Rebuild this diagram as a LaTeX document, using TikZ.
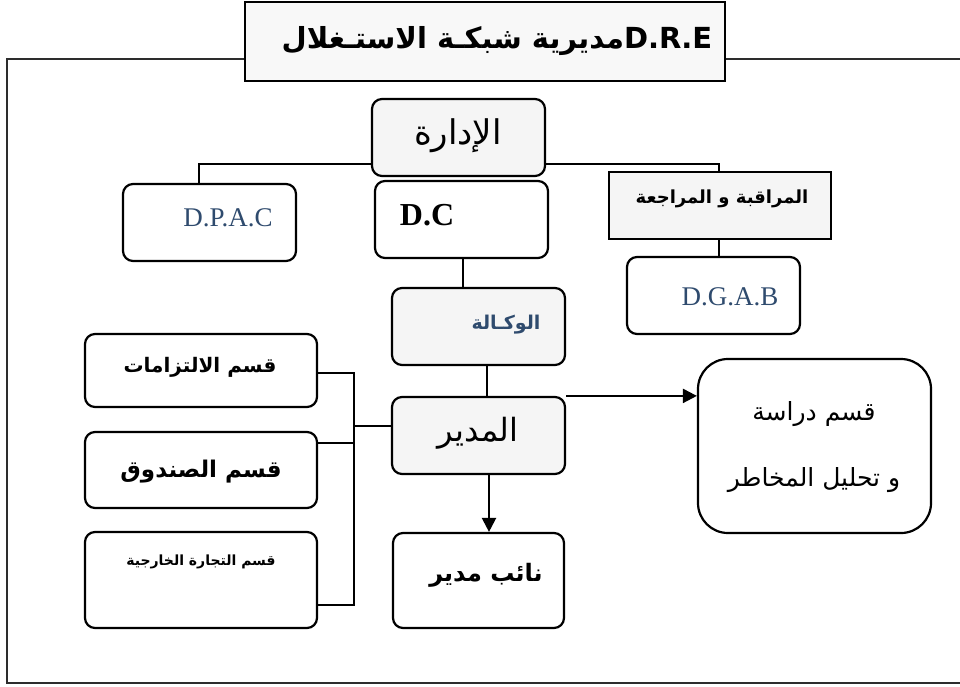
\documentclass[tikz,border=0pt]{standalone}
\usepackage{fontspec}
\usetikzlibrary{arrows.meta}
\TeXXeTstate=1
\newfontfamily\arabicfont[Script=Arabic]{DejaVu Sans}
\newfontfamily\latinserif{Liberation Serif}
\newcommand{\artxt}[1]{\arabicfont\beginR #1\endR}
\newcommand{\fs}[1]{\fontsize{#1}{#1}\selectfont}
\definecolor{orgfill}{RGB}{245,245,245}
\definecolor{orgblue}{RGB}{47,75,110}
\definecolor{orgframe}{RGB}{45,45,45}

\begin{document}
\begin{tikzpicture}[
    x=1pt, y=-1pt,
    >={Triangle[length=14pt,width=14pt]},
    conn/.style={draw=black, line width=2.2pt},
    frame/.style={draw=orgframe, line width=2.2pt},
    box/.style={draw=black, fill=white, line width=2.2pt, rounded corners=10pt, inner sep=0pt},
    gbox/.style={box, fill=orgfill},
    sqbox/.style={box, fill=orgfill, rounded corners=0pt},
    tag/.style={inner sep=0pt},
  ]
  \useasboundingbox (0,0) rectangle (960,686);

  % outer frame, title sits on its top edge
  \draw[frame] (7,59) rectangle (965,683);
  \node[sqbox, fill=orgfill!70!white, minimum width=480, minimum height=79] (title) at (485,41.5) {};
  \node[tag, font=\fs{29}\bfseries] (t-title) at (497,41)
    {\arabicfont\bfseries\beginR\beginL D.R.E\endL مديرية شبكـة الاستـغلال\endR};

  % upper level
  \node[gbox, minimum width=173, minimum height=77] (idara) at (458.5,137.5) {};
  \node[box,  minimum width=173, minimum height=77] (dpac)  at (209.5,222.5) {};
  \node[box,  minimum width=173, minimum height=77] (dc)    at (461.5,219.5) {};
  \node[sqbox, minimum width=222, minimum height=67] (mur)  at (720,205.5) {};
  \node[box,  minimum width=173, minimum height=77] (dgab)  at (713.5,295.5) {};

  \node[tag, font=\fs{34}] (t-idara) at (458,136) {\artxt{الإدارة}};
  \node[tag, font=\latinserif\fs{27}, text=orgblue] (t-dpac) at (228,218) {D.P.A.C};
  \node[tag, font=\latinserif\fs{32}\bfseries] (t-dc) at (427,215) {D.C};
  \node[tag, font=\fs{18}] (t-mur) at (722,199) {\arabicfont\bfseries\beginR المراقبة و المراجعة\endR};
  \node[tag, font=\latinserif\fs{27}, text=orgblue] (t-dgab) at (730,297) {D.G.A.B};

  % agency and director
  \node[gbox, minimum width=173, minimum height=77] (wak)  at (478.5,326.5) {};
  \node[gbox, minimum width=173, minimum height=77] (mud)  at (478.5,435.5) {};
  \node[box,  minimum width=171, minimum height=95] (naib) at (478.5,580.5) {};
  \node[box,  minimum width=233, minimum height=174, rounded corners=30pt] (risk) at (814.5,446) {};

  \node[tag, font=\fs{19}, text=orgblue] (t-wak) at (506,325) {\arabicfont\bfseries\beginR الوكـالة\endR};
  \node[tag, font=\fs{32}] (t-mud) at (478,433) {\artxt{المدير}};
  \node[tag, font=\fs{24}] (t-naib) at (486,575) {\arabicfont\bfseries\beginR نائب مدير\endR};
  \node[tag, font=\fs{25}, align=center] (t-risk) at (814,447)
    {\artxt{قسم دراسة}\\[40pt]\artxt{و تحليل المخاطر}};

  % departments on the left
  \node[box, minimum width=232, minimum height=73] (iltz) at (201,370.5) {};
  \node[box, minimum width=232, minimum height=76] (sund) at (201,470) {};
  \node[box, minimum width=232, minimum height=96] (tij)  at (201,580) {};

  \node[tag, font=\fs{20}] (t-iltz) at (200,367) {\arabicfont\bfseries\beginR قسم الالتزامات\endR};
  \node[tag, font=\fs{23}] (t-sund) at (201,472) {\arabicfont\bfseries\beginR قسم الصندوق\endR};
  \node[tag, font=\fs{14}] (t-tij)  at (201,562) {\arabicfont\bfseries\beginR قسم التجارة الخارجية\endR};

  % connectors
  \coordinate (jl) at (199,164);
  \coordinate (jr) at (719,164);
  \coordinate (jc) at (463,0);
  \coordinate (jm) at (487,0);
  \coordinate (ja) at (489,0);
  \coordinate (b0) at (354,426);
  \coordinate (b1) at (354,373);
  \coordinate (b2) at (354,443);
  \coordinate (b3) at (354,605);

  \draw[conn] (idara.west |- jl) -| (dpac.north -| jl);
  \draw[conn] (idara.east |- jr) -| (mur.north -| jr);
  \draw[conn] (mur.south -| jr) -- (dgab.north -| jr);
  \draw[conn] (dc.south -| jc) -- (wak.north -| jc);
  \draw[conn] (wak.south -| jm) -- (mud.north -| jm);
  \draw[conn, ->] (mud.south -| ja) -- (naib.north -| ja);
  \draw[conn, ->] (mud.north east) -- (risk.west |- mud.north);

  \draw[conn] (iltz.east |- b1) -- (b1) -- (b3) -- (tij.east |- b3);
  \draw[conn] (sund.east |- b2) -- (b2);
  \draw[conn] (b0) -- (mud.west |- b0);

\end{tikzpicture}
\end{document}
